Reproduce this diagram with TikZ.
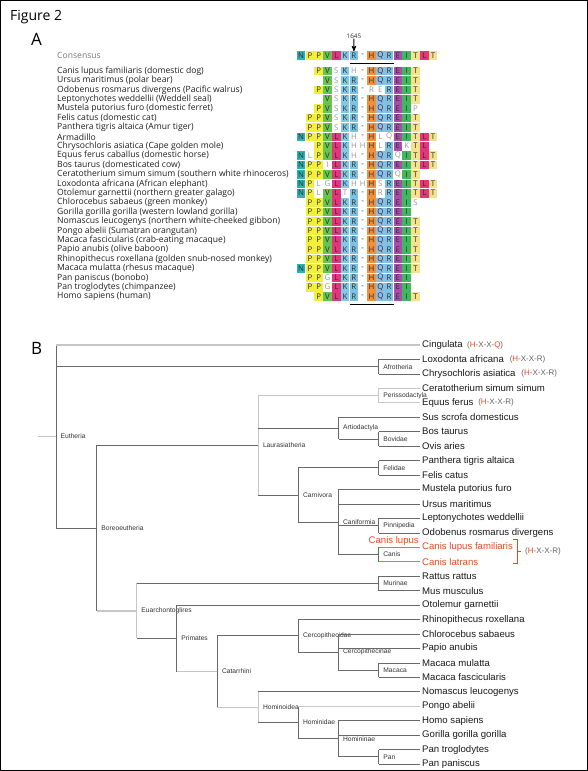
\documentclass[tikz,border=0pt]{standalone}
\usepackage{fontspec}
\setmainfont{Liberation Sans}
\newfontfamily\opensans{Open Sans}
\usepackage{tikz}
\usetikzlibrary{arrows}
\definecolor{aaN}{RGB}{43,178,184}
\definecolor{aaP}{RGB}{242,238,60}
\definecolor{aaV}{RGB}{104,196,80}
\definecolor{aaL}{RGB}{229,52,124}
\definecolor{aaK}{RGB}{132,200,232}
\definecolor{aaR}{RGB}{124,194,228}
\definecolor{aaH}{RGB}{240,144,58}
\definecolor{aaQ}{RGB}{138,190,232}
\definecolor{aaE}{RGB}{170,76,170}
\definecolor{aaI}{RGB}{64,184,96}
\definecolor{aaT}{RGB}{245,226,140}
\definecolor{rescol}{RGB}{45,45,45}
\definecolor{misscol}{RGB}{150,150,150}
\definecolor{namecol}{RGB}{30,30,30}
\definecolor{leafcol}{RGB}{25,25,25}
\definecolor{cladecol}{RGB}{50,50,50}
\definecolor{motifcol}{RGB}{100,100,100}
\definecolor{darkline}{RGB}{105,105,105}
\definecolor{lightline}{RGB}{198,198,198}
\definecolor{canisred}{RGB}{230,72,40}
\tikzset{
  residue/.style={inner sep=0pt,font=\opensans\fontsize{7.8}{8}\selectfont,text=rescol},
  mismatch/.style={residue,text=misscol},
  spname/.style={anchor=west,inner sep=0pt,font=\opensans\fontsize{8.6}{9}\selectfont,text=namecol},
  leaf/.style={anchor=west,inner sep=2pt,font=\fontsize{9.6}{11}\selectfont,text=leafcol},
  clade/.style={anchor=west,inner sep=0pt,xshift=4.5pt,font=\fontsize{6.7}{8}\selectfont,text=cladecol},
  motif/.style={anchor=west,inner sep=0pt,font=\fontsize{8}{9}\selectfont,text=motifcol},
  darkedge/.style={draw=darkline,line width=0.7pt},
  lightedge/.style={draw=lightline,line width=1.3pt},
  redge/.style={draw=canisred!80,line width=0.7pt},
  panel/.style={font=\opensans\fontsize{17}{18}\selectfont,inner sep=0pt,anchor=base west}
}
\def\gapch{-}
% one cell of the alignment: row name, y, column, letter
\newcommand{\resbox}[4]{%
  \edef\rch{#4}%
  \ifx\rch\gapch
    \node[residue] (#1-#3) at ({296.7+(#3+0.5)*8.8},#2) {-};
  \else
    \expandafter\ifx\csname cons#3\endcsname\rch
      \fill[fill=aa\rch] ({296.7+#3*8.8+0.1},{#2-4.3}) rectangle ++(8.6,8.6);
      \node[residue] (#1-#3) at ({296.7+(#3+0.5)*8.8},#2) {\rch};
    \else
      \node[mismatch] (#1-#3) at ({296.7+(#3+0.5)*8.8},#2) {\rch};
    \fi
  \fi}

\begin{document}
\begin{tikzpicture}[x=1pt,y=-1pt,>=stealth']
\useasboundingbox (0,0) rectangle (588,771);
\draw[black,line width=1pt] (0.5,0.5) rectangle (587.5,770.5);

\node[panel,font=\opensans\fontsize{14}{15}\selectfont] (fig) at (10,20) {Figure 2};
\node[panel] (panelA) at (31,45) {A};
\node[panel] (panelB) at (31,354) {B};

% --- panel A: alignment
\node[spname,text=misscol!80!black] (consname) at (57,55.7) {Consensus};
\foreach \ch [count=\c from 0] in {N,P,P,V,L,K,R,-,H,Q,R,E,I,T,L,T}
  \expandafter\xdef\csname cons\c\endcsname{\ch};
\foreach \ch [count=\c from 0] in {N,P,P,V,L,K,R,-,H,Q,R,E,I,T,L,T}
  {\resbox{cons}{55.7}{\c}{\ch}}

\foreach \name [count=\r from 0] in {Canis lupus familiaris (domestic dog),
  Ursus maritimus (polar bear), Odobenus rosmarus divergens (Pacific walrus),
  Leptonychotes weddellii (Weddell seal), Mustela putorius furo (domestic ferret),
  Felis catus (domestic cat), Panthera tigris altaica (Amur tiger), Armadillo,
  Chrysochloris asiatica (Cape golden mole), Equus ferus caballus (domestic horse),
  Bos taurus (domesticated cow), Ceratotherium simum simum (southern white rhinoceros),
  Loxodonta africana (African elephant), Otolemur garnettii (northern greater galago),
  Chlorocebus sabaeus (green monkey), Gorilla gorilla gorilla (western lowland gorilla),
  Nomascus leucogenys (northern white-cheeked gibbon), Pongo abelii (Sumatran orangutan),
  Macaca fascicularis (crab-eating macaque), Papio anubis (olive baboon),
  Rhinopithecus roxellana (golden snub-nosed monkey), Macaca mulatta (rhesus macaque),
  Pan paniscus (bonobo), Pan troglodytes (chimpanzee), Homo sapiens (human)}
  \node[spname] (sp\r) at (57,{71+\r*9.4}) {\name};

\foreach \start/\seq [count=\r from 0] in {
  2/{P,V,S,K,H,-,H,Q,R,E,I,T}, 3/{V,S,K,R,-,H,Q,R,E,I,T},
  2/{P,V,S,K,R,-,R,E,R,E,I,T}, 3/{V,S,K,R,-,H,Q,R,E,I,T},
  2/{P,V,S,K,R,-,H,Q,R,E,I,P}, 1/{P,P,V,S,K,R,-,H,Q,R,E,I,T},
  1/{P,P,V,S,K,R,-,H,Q,R,E,I,T}, 0/{N,P,P,V,L,K,H,-,H,L,Q,E,I,T,L,T},
  2/{P,V,L,K,H,H,H,L,R,E,K,T,L}, 0/{N,L,P,V,L,K,H,-,H,Q,R,Q,I,T,L,T},
  0/{N,P,P,I,L,K,R,-,H,Q,R,E,I,T,L,T}, 0/{N,P,P,V,L,K,R,-,H,Q,R,Q,I,T},
  0/{N,P,L,G,L,K,H,H,H,S,R,E,I,T,L,T}, 0/{N,P,L,V,L,T,R,-,H,R,R,E,I,T,L,T},
  1/{P,P,V,L,K,R,-,H,Q,R,E,I,S}, 1/{P,P,V,L,K,R,-,H,Q,R,E,I},
  1/{P,P,V,L,K,R,-,H,Q,R,E,I,T}, 1/{P,P,V,L,K,R,-,H,Q,R,E,I,T},
  1/{P,P,V,L,K,R,-,H,Q,R,E,I,T}, 1/{P,P,V,L,K,R,-,H,Q,R,E,I,T},
  1/{P,P,V,L,K,R,-,H,Q,R,E,I,T}, 0/{N,P,P,V,L,K,R,-,H,Q,R,E,I,T},
  1/{P,P,G,L,K,R,-,H,Q,R,E,I}, 1/{P,P,G,L,K,R,-,H,Q,R,E,I},
  2/{P,V,L,K,R,-,H,Q,R,E,I,T}}
{
  \pgfmathsetmacro\y{71+\r*9.4}
  \foreach \ch [count=\c from \start] in \seq {\resbox{row\r}{\y}{\c}{\ch}}
}

\node[residue,font=\opensans\fontsize{6.3}{7}\selectfont] (pos1645) at (353.9,36) {1645};
\draw[->,line width=0.9pt,shorten >=1.5pt] (pos1645.south) -- (cons-6.north);
\draw[line width=1.4pt] (349.5,63.6) -- (393.5,63.6);
\draw[line width=1.4pt] (349.5,304.2) -- (393.5,304.2);

% --- panel B: tree
\foreach \leaf/\lname [count=\i from 0] in {cing/Cingulata, loxo/Loxodonta africana,
  chry/Chrysochloris asiatica, cera/Ceratotherium simum simum, equu/Equus ferus,
  susc/Sus scrofa domesticus, bost/Bos taurus, ovis/Ovis aries,
  pant/Panthera tigris altaica, feli/Felis catus, must/Mustela putorius furo,
  ursu/Ursus maritimus, lept/Leptonychotes weddellii, odob/Odobenus rosmarus divergens}
  \node[leaf] (\leaf) at (420,{345+\i*14.45}) {\lname};
\node[leaf,text=canisred] (clfa) at (420,547.3) {Canis lupus familiaris};
\node[leaf,text=canisred] (clat) at (420,561.75) {Canis latrans};
\foreach \leaf/\lname [count=\i from 16] in {ratt/Rattus rattus, musm/Mus musculus,
  otol/Otolemur garnettii, rhin/Rhinopithecus roxellana, chlo/Chlorocebus sabaeus,
  papi/Papio anubis, mmul/Macaca mulatta, mfas/Macaca fascicularis,
  noma/Nomascus leucogenys, pong/Pongo abelii, homo/Homo sapiens,
  gori/Gorilla gorilla gorilla, ptro/Pan troglodytes, ppan/Pan paniscus}
  \node[leaf] (\leaf) at (420,{345+\i*14.45}) {\lname};
\node[leaf,text=canisred,anchor=east] (canislupus) at (421,541.2) {Canis lupus};

\coordinate (rootstub) at (37.7,436.5);
\foreach \cl/\x/\y/\ctext in {eutheria/56/436.5/Eutheria, afrotheria/378.7/366.7/Afrotheria,
  boreo/96.7/528.05/Boreoeutheria, laurasia/258.3/445.25/Laurasiatheria,
  perisso/378.7/395.6/Perissodactyla, artio/338.5/428.1/Artiodactyla,
  bovidae/378.7/438.9/Bovidae, carnivora/298.3/494.9/Carnivora,
  felidae/378.7/467.8/Felidae, caniformia/338.3/522/Caniformia,
  pinnipedia/378.7/525.6/Pinnipedia, canis/378.7/554.5/Canis,
  euarch/136.7/610.9/Euarchontoglires, murinae/378.7/583.4/Murinae,
  primates/176.7/638.3/Primates, catarrhini/217.3/671.5/Catarrhini,
  cercopithecidae/298.3/635.8/Cercopithecidae, cercopithecinae/338.3/652.1/Cercopithecinae,
  macaca/378.7/670.1/Macaca, hominoidea/258.3/707.2/Hominoidea,
  hominidae/298.3/722.5/Hominidae, homininae/338.3/738.8/Homininae, pan/378.7/756.8/Pan}
{
  \coordinate (\cl) at (\x,\y);
  \node[clade] (\cl-lab) at (\cl) {\ctext};
}

% vertical bars
\foreach \p/\a/\b in {eutheria/cing/boreo, afrotheria/loxo/chry, boreo/laurasia/euarch,
  artio/susc/bovidae, bovidae/bost/ovis, carnivora/felidae/caniformia, felidae/pant/feli,
  caniformia/must/canis, pinnipedia/lept/odob, canis/clfa/clat, murinae/ratt/musm,
  primates/otol/catarrhini, catarrhini/cercopithecidae/hominoidea,
  cercopithecidae/rhin/cercopithecinae, cercopithecinae/chlo/macaca, macaca/mmul/mfas,
  hominidae/pong/homininae, homininae/homo/pan, pan/ptro/ppan}
  \draw[darkedge] (\p |- \a) -- (\p |- \b);
\foreach \p/\a/\b in {laurasia/perisso/carnivora, perisso/cera/equu,
  euarch/murinae/primates, hominoidea/noma/hominidae}
  \draw[lightedge] (\p |- \a) -- (\p |- \b);

% branches
\draw[lightedge] (rootstub) -- (eutheria);
\foreach \p/\c in {eutheria/cing, laurasia/perisso, perisso/cera, perisso/equu,
  boreo/euarch, primates/catarrhini, catarrhini/hominoidea, hominidae/pong}
  \draw[lightedge] (\p |- \c) -- (\c);
\foreach \p/\c in {eutheria/afrotheria, afrotheria/loxo, afrotheria/chry, eutheria/boreo,
  boreo/laurasia, laurasia/artio, artio/susc, artio/bovidae, bovidae/bost, bovidae/ovis,
  laurasia/carnivora, carnivora/felidae, felidae/pant, felidae/feli,
  carnivora/caniformia, caniformia/must, caniformia/ursu, caniformia/pinnipedia,
  pinnipedia/lept, pinnipedia/odob, caniformia/canis, euarch/murinae, murinae/ratt,
  murinae/musm, euarch/primates, primates/otol, catarrhini/cercopithecidae,
  cercopithecidae/rhin, cercopithecidae/cercopithecinae, cercopithecinae/chlo,
  cercopithecinae/papi, cercopithecinae/macaca, macaca/mmul, macaca/mfas,
  hominoidea/noma, hominoidea/hominidae, hominidae/homininae, homininae/homo,
  homininae/gori, homininae/pan, pan/ptro, pan/ppan}
  \draw[darkedge] (\p |- \c) -- (\c);
\foreach \c in {clfa,clat}
  \draw[redge] (canis |- \c) -- (\c);

% motifs
\node[motif,xshift=2pt] (cing-motif) at (cing.east) {({\color{canisred}H}-X-X-{\color{canisred}Q})};
\node[motif,xshift=3.5pt] (loxo-motif) at (loxo.east) {({\color{canisred}H}-X-X-R)};
\node[motif,xshift=3.5pt] (chry-motif) at (chry.east) {({\color{canisred}H}-X-X-R)};
\node[motif,xshift=2.5pt] (equu-motif) at (equu.east) {({\color{canisred}H}-X-X-R)};
\draw[canisred,line width=1pt] (513,539.5) -- (517,539.5) -- (517,563.5) -- (513,563.5);
\draw[canisred,line width=1pt] (517,551.5) -- (521,551.5);
\node[motif] (canis-motif) at (525,551.5) {({\color{canisred}H}-X-X-R)};
\end{tikzpicture}
\end{document}
